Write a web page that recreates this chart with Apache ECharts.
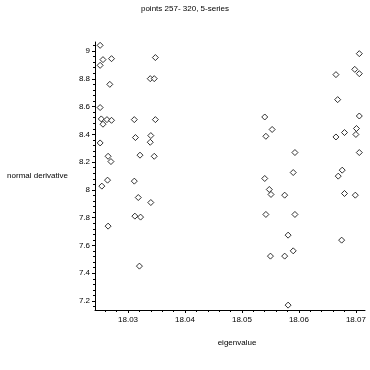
<!DOCTYPE html>
<html>
<head>
<meta charset="utf-8">
<script src="https://cdn.jsdelivr.net/npm/echarts@6/dist/echarts.min.js"></script>
<style>
  html, body { margin: 0; padding: 0; background: #fff; }
  #chart { width: 370px; height: 370px; }
</style>
</head>
<body>
<div id="chart"></div>
<script>
// ---- data ----
const titleText = 'points 257- 320, 5-series';
const xName = 'eigenvalue';
const yName = 'normal derivative';

const xTicks = [18.03, 18.04, 18.05, 18.06, 18.07];
const yTicks = [7.2, 7.4, 7.6, 7.8, 8, 8.2, 8.4, 8.6, 8.8, 9];

// cluster 1
const eig1 = [18.0251, 18.0256, 18.0251, 18.0271, 18.0268, 18.0251, 18.0253, 18.0263,
              18.0271, 18.0256, 18.0251, 18.0265, 18.0270, 18.0264, 18.0254, 18.0265];
const der1 = [9.041, 8.938, 8.897, 8.945, 8.760, 8.593, 8.511, 8.506,
              8.501, 8.473, 8.338, 8.242, 8.204, 8.070, 8.027, 7.739];
// cluster 2
const eig2 = [18.0348, 18.0339, 18.0346, 18.0311, 18.0348, 18.0313, 18.0340, 18.0339,
              18.0321, 18.0346, 18.0311, 18.0318, 18.0340, 18.0312, 18.0322, 18.0320];
const der2 = [8.953, 8.801, 8.801, 8.506, 8.506, 8.377, 8.391, 8.343,
              8.250, 8.242, 8.063, 7.945, 7.909, 7.811, 7.804, 7.451];
// cluster 3
const eig3 = [18.0540, 18.0553, 18.0542, 18.0593, 18.0590, 18.0540, 18.0548, 18.0551,
              18.0575, 18.0542, 18.0593, 18.0581, 18.0590, 18.0550, 18.0575, 18.0581];
const der3 = [8.525, 8.435, 8.386, 8.269, 8.125, 8.082, 8.003, 7.967,
              7.962, 7.823, 7.823, 7.674, 7.561, 7.523, 7.523, 7.170];
// cluster 4
const eig4 = [18.0706, 18.0698, 18.0706, 18.0665, 18.0668, 18.0706, 18.0701, 18.0680,
              18.0700, 18.0665, 18.0706, 18.0676, 18.0669, 18.0680, 18.0699, 18.0675];
const der4 = [8.981, 8.868, 8.837, 8.830, 8.650, 8.532, 8.442, 8.413,
              8.399, 8.381, 8.269, 8.142, 8.099, 7.974, 7.962, 7.638];

// ---- build ----
const eig = eig1.concat(eig2, eig3, eig4);
const der = der1.concat(der2, der3, der4);
const points = eig.map((x, i) => [x, der[i]]);

const xMin = 18.0242, xMax = 18.0716;
const yMin = 7.135, yMax = 9.065;

function minorBetween(ticks, sub, lo, hi) {
  const step = (ticks[1] - ticks[0]) / sub;
  const out = [];
  for (let v = ticks[0] - step * sub; v <= ticks[ticks.length - 1] + step * sub + 1e-9; v += step) {
    const r = Math.round(v * 1e6) / 1e6;
    if (r < lo || r > hi) continue;
    if (ticks.some(t => Math.abs(t - r) < step / 10)) continue;
    out.push(r);
  }
  return out;
}
const xMinor = minorBetween(xTicks, 5, xMin, xMax);
const yMinor = minorBetween(yTicks, 5, yMin, yMax);

const FONT = '"Liberation Sans", Arial, sans-serif';
const black = '#000';

const chart = echarts.init(document.getElementById('chart'), null, { renderer: 'canvas' });
chart.setOption({
  animation: false,
  backgroundColor: '#fff',
  title: {
    text: titleText,
    left: 'center',
    top: 0,
    textStyle: { fontFamily: FONT, fontSize: 8, fontWeight: 'normal', color: black }
  },
  grid: { left: 95, right: 5, top: 42, bottom: 60, containLabel: false },
  xAxis: [{
    type: 'value', min: xMin, max: xMax,
    name: xName, nameLocation: 'middle', nameGap: 29,
    nameTextStyle: { fontFamily: FONT, fontSize: 8, color: black, padding: [0, 0, 0, 14] },
    axisLine: { show: true, onZero: false, lineStyle: { color: black, width: 1 } },
    axisTick: { show: true, customValues: xTicks, length: 3, lineStyle: { color: black } },
    axisLabel: { customValues: xTicks, margin: 6, fontFamily: FONT, fontSize: 8, color: black,
                 formatter: v => v.toFixed(2) },
    splitLine: { show: false }
  }, {
    type: 'value', min: xMin, max: xMax, position: 'bottom', gridIndex: 0,
    axisLine: { show: false },
    axisTick: { show: true, customValues: xMinor, length: 2, lineStyle: { color: black } },
    axisLabel: { show: false },
    splitLine: { show: false }
  }],
  yAxis: [{
    type: 'value', min: yMin, max: yMax,
    name: yName, nameLocation: 'middle', nameRotate: 0, nameGap: 27,
    nameTextStyle: { fontFamily: FONT, fontSize: 8, color: black, align: 'right' },
    axisLine: { show: true, onZero: false, lineStyle: { color: black, width: 1 } },
    axisTick: { show: true, customValues: yTicks, length: 3, lineStyle: { color: black } },
    axisLabel: { customValues: yTicks, margin: 5, fontFamily: FONT, fontSize: 8, color: black,
                 formatter: v => String(Math.round(v * 10) / 10) },
    splitLine: { show: false }
  }, {
    type: 'value', min: yMin, max: yMax, position: 'left', gridIndex: 0,
    axisLine: { show: false },
    axisTick: { show: true, customValues: yMinor, length: 2, lineStyle: { color: black } },
    axisLabel: { show: false },
    splitLine: { show: false }
  }],
  series: [{
    type: 'scatter',
    xAxisIndex: 0, yAxisIndex: 0,
    data: points,
    symbol: 'diamond',
    symbolSize: 6,
    itemStyle: { color: '#fff', borderColor: black, borderWidth: 1 },
    emphasis: { disabled: true }
  }]
});
</script>
</body>
</html>
